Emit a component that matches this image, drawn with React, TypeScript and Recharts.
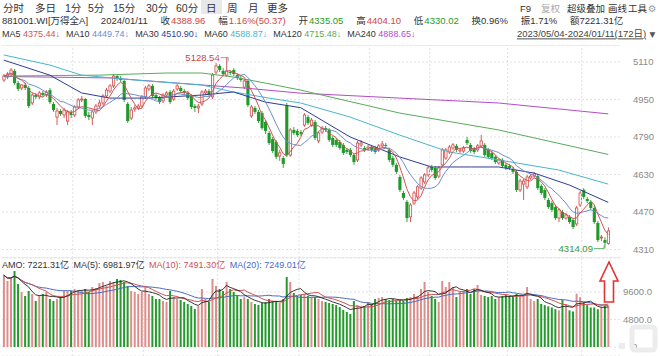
import React from 'react';
import { ComposedChart, Bar, Line, XAxis, YAxis, CartesianGrid, ReferenceLine, Cell } from 'recharts';

// ---------- data (2023/05/04 - 2024/01/11, 172 trading days) ----------
const opens = [
  5033, 5046, 5059, 5072, 5020, 4999, 5012, 4999, 4935, 4969,
  4961, 4978, 4969, 4990, 4931, 4875, 4901, 4884, 4858, 4897,
  4884, 4918, 4948, 4952, 4884, 4871, 4897, 4922, 4935, 4965,
  4986, 5008, 5050, 5042, 5029, 4931, 4871, 4909, 4914, 4922,
  4961, 4995, 5008, 4969, 4956, 4944, 4969, 4982, 4952, 4995,
  4999, 4986, 4978, 4965, 4922, 4914, 4931, 4978, 4986, 4961,
  5067, 5093, 5072, 5054, 5067, 5076, 5054, 5042, 5003, 5029,
  4880, 4914, 4897, 4892, 4854, 4807, 4781, 4769, 4709, 4700,
  4926, 4713, 4820, 4816, 4811, 4841, 4875, 4841, 4854, 4773,
  4811, 4828, 4820, 4786, 4777, 4769, 4756, 4735, 4735, 4713,
  4692, 4756, 4743, 4739, 4747, 4743, 4735, 4752, 4756, 4735,
  4700, 4671, 4619, 4551, 4513, 4449, 4508, 4534, 4572, 4598,
  4628, 4662, 4658, 4623, 4671, 4700, 4726, 4743, 4752, 4730,
  4730, 4777, 4756, 4739, 4735, 4752, 4756, 4735, 4722, 4705,
  4679, 4692, 4671, 4666, 4653, 4641, 4564, 4589, 4577, 4615,
  4623, 4623, 4581, 4564, 4521, 4508, 4491, 4444, 4470, 4444,
  4449, 4436, 4419, 4500, 4564, 4525, 4513, 4487, 4423, 4359,
  4350, 4335.05,
];
const closes = [
  5050, 5059, 5076, 5020, 4995, 5012, 4999, 4922, 4969, 4961,
  4978, 4969, 4982, 4939, 4905, 4901, 4888, 4905, 4897, 4884,
  4918, 4948, 4952, 4880, 4875, 4897, 4922, 4935, 4965, 4990,
  5008, 5050, 5037, 5033, 4948, 4858, 4905, 4914, 4922, 4961,
  4999, 5008, 4965, 4956, 4939, 4969, 4978, 4939, 4986, 5008,
  4986, 4978, 4956, 4918, 4914, 4922, 4982, 4986, 4973, 5054,
  5093, 5076, 5059, 5072, 5063, 5059, 5042, 5033, 5029, 4926,
  4918, 4897, 4858, 4828, 4816, 4764, 4730, 4705, 4722, 4675,
  4713, 4820, 4807, 4798, 4803, 4884, 4850, 4862, 4786, 4807,
  4828, 4820, 4777, 4756, 4756, 4743, 4722, 4726, 4713, 4683,
  4764, 4764, 4735, 4747, 4735, 4726, 4752, 4760, 4752, 4692,
  4671, 4641, 4564, 4530, 4444, 4500, 4551, 4577, 4615, 4628,
  4658, 4649, 4615, 4658, 4735, 4735, 4747, 4756, 4735, 4735,
  4743, 4764, 4730, 4726, 4752, 4773, 4713, 4705, 4700, 4683,
  4692, 4666, 4658, 4658, 4641, 4564, 4602, 4602, 4619, 4623,
  4632, 4572, 4551, 4530, 4491, 4479, 4444, 4479, 4444, 4457,
  4427, 4406, 4487, 4551, 4534, 4517, 4487, 4427, 4350, 4363,
  4338.59, 4388.96,
];
const highs = [
  5059, 5067, 5084, 5080, 5029, 5016, 5020, 5008, 4977, 4977,
  4986, 4986, 4990, 4999, 4939, 4914, 4909, 4914, 4905, 4905,
  4926, 4956, 4965, 4956, 4897, 4905, 4931, 4948, 4973, 4999,
  5016, 5059, 5054, 5050, 5033, 4939, 4918, 4926, 4931, 4969,
  5008, 5016, 5016, 4977, 4965, 4977, 4986, 4990, 4995, 5016,
  5008, 4995, 4986, 4973, 4931, 4931, 4990, 4995, 4995, 5063,
  5106, 5101, 5084, 5128.54, 5076, 5084, 5063, 5050, 5037, 5037,
  4926, 4922, 4905, 4901, 4862, 4816, 4790, 4777, 4735, 4709,
  4935, 4828, 4833, 4824, 4820, 4892, 4884, 4871, 4862, 4816,
  4837, 4837, 4828, 4794, 4786, 4777, 4764, 4743, 4743, 4722,
  4773, 4777, 4752, 4756, 4756, 4752, 4760, 4773, 4764, 4743,
  4709, 4679, 4628, 4560, 4521, 4508, 4560, 4585, 4623, 4636,
  4666, 4671, 4666, 4666, 4743, 4743, 4756, 4764, 4760, 4743,
  4752, 4790, 4764, 4747, 4760, 4799, 4764, 4743, 4730, 4713,
  4700, 4700, 4679, 4675, 4662, 4649, 4611, 4611, 4628, 4632,
  4641, 4632, 4589, 4572, 4530, 4517, 4500, 4487, 4479, 4466,
  4457, 4444, 4496, 4560, 4572, 4534, 4521, 4496, 4432, 4372,
  4362, 4404.10,
];
const lows = [
  5025, 5037, 5050, 5012, 4986, 4990, 4990, 4914, 4926, 4952,
  4952, 4961, 4961, 4931, 4897, 4841, 4880, 4871, 4841, 4871,
  4875, 4909, 4939, 4871, 4862, 4841, 4888, 4914, 4926, 4956,
  4978, 4999, 5029, 5025, 4939, 4850, 4862, 4897, 4905, 4914,
  4952, 4986, 4956, 4948, 4931, 4935, 4961, 4931, 4944, 4986,
  4978, 4969, 4948, 4909, 4897, 4892, 4922, 4969, 4965, 4952,
  5059, 5067, 5050, 5046, 5054, 5050, 5033, 5025, 4995, 4918,
  4871, 4888, 4850, 4820, 4803, 4756, 4722, 4696, 4688, 4658,
  4705, 4705, 4798, 4790, 4794, 4833, 4841, 4833, 4777, 4764,
  4803, 4811, 4769, 4747, 4747, 4735, 4713, 4717, 4705, 4671,
  4683, 4747, 4726, 4730, 4726, 4717, 4726, 4743, 4743, 4683,
  4662, 4632, 4555, 4521, 4427, 4427, 4500, 4525, 4564, 4589,
  4619, 4641, 4607, 4615, 4662, 4692, 4717, 4735, 4726, 4722,
  4722, 4756, 4722, 4717, 4726, 4743, 4705, 4696, 4692, 4675,
  4671, 4658, 4649, 4649, 4632, 4555, 4555, 4521, 4568, 4607,
  4615, 4564, 4543, 4521, 4483, 4470, 4436, 4427, 4436, 4436,
  4419, 4397, 4410, 4491, 4525, 4508, 4479, 4419, 4342, 4346,
  4314.09, 4330.02,
];
// turnover (亿)
const volumes = [
  12560, 11520, 12040, 13260, 10990, 9600, 8900, 9770, 9250, 8030,
  8900, 9250, 9600, 8380, 8030, 8380, 8720, 9770, 9770, 9770,
  10120, 9770, 9950, 10120, 9600, 10470, 10300, 11170, 11340, 10650,
  11520, 11340, 11870, 11690, 11340, 10650, 9770, 9600, 9250, 9600,
  10470, 9250, 8900, 8380, 8380, 8030, 7850, 9770, 8720, 8380,
  8200, 7850, 7500, 7150, 6630, 7150, 10120, 8380, 7850, 11870,
  10650, 10120, 9770, 11340, 10120, 9600, 8900, 8380, 8720, 8380,
  7850, 7500, 7330, 7680, 7850, 8380, 8030, 7850, 7680, 8380,
  12220, 11340, 9420, 8900, 9070, 9250, 8900, 8720, 8720, 8380,
  8030, 7850, 7680, 7500, 7330, 6980, 6460, 6110, 5760, 8030,
  7330, 6980, 7150, 7850, 7500, 8380, 8550, 8720, 8380, 8200,
  8380, 8030, 8200, 8030, 8550, 8720, 9250, 8900, 10120, 11340,
  9600, 8900, 8380, 7850, 11520, 10470, 11340, 10470, 8720, 9600,
  9770, 10120, 9250, 10120, 10820, 9070, 8900, 8720, 8900, 8380,
  8720, 8900, 9070, 8900, 8900, 9250, 8900, 9070, 10470, 8380,
  8030, 8380, 7500, 7300, 7100, 6900, 6600, 6400, 8200, 7470,
  6400, 6200, 9300, 8700, 7800, 7300, 6900, 6900, 6600, 7000,
  7200, 7221.31,
];

// long moving averages at a few days: [day index, value]
const ma30Pts: [number, number][] = [
  [0, 5118], [13, 5054], [22, 4978], [30, 4956], [41, 4956], [56, 4969], [65, 4982],
  [74, 4939], [84, 4915], [98, 4790], [112, 4705], [121, 4662], [132, 4662], [140, 4662],
  [150, 4636], [160, 4585], [171, 4510.9],
];
const ma60Pts: [number, number][] = [
  [0, 5140], [13, 5097], [22, 5054], [37, 5033], [56, 5012], [65, 4982], [75, 4956],
  [84, 4935], [98, 4875], [112, 4798], [126, 4726], [140, 4692], [157, 4649], [171, 4588.87],
];
const ma120Pts: [number, number][] = [
  [0, 5050], [27, 5054], [46, 5063], [56, 5063], [65, 5046], [74, 5020], [84, 4990],
  [112, 4892], [140, 4820], [171, 4715.48],
];
const ma240Pts: [number, number][] = [
  [0, 5048], [30, 5042], [56, 5012], [68, 4999], [84, 4977], [112, 4956], [140, 4935],
  [171, 4888.65],
];

const monthStarts = [20, 40, 61, 84, 104, 121, 143, 164];
const priceTicks = [4310, 4470, 4630, 4790, 4950, 5110];
const volTicks = [0, 4800, 9600];
const priceDomain: [number, number] = [4273.6, 5182.5];
const volDomain: [number, number] = [-1570, 15531];

// ---------- styles ----------
const CJK = "'Noto Sans CJK SC', 'Noto Sans', sans-serif";
const LAT = "'Liberation Sans', 'Noto Sans CJK SC', sans-serif";
const RED = '#d04848';
const GREEN = '#1f9a2a';
const VOL_RED = '#dc8e8b';
const VOL_GREEN = '#24992c';
const C_MA5 = '#d05454';
const C_MA10 = '#6d8fd0';
const C_MA30 = '#2e3c96';
const C_MA60 = '#48b6cc';
const C_MA120 = '#5aab5a';
const C_MA240 = '#b44cc8';
const GRID = '#e2e2e2';

const sma = (arr: number[], n: number) =>
  arr.map((_, i) => {
    const w = arr.slice(Math.max(0, i - n + 1), i + 1);
    return w.reduce((a, b) => a + b, 0) / w.length;
  });
const fromPts = (pts: [number, number][], i: number) => {
  const f = pts.find((p) => p[0] === i);
  return f ? f[1] : null;
};

const ma5 = sma(closes, 5);
const ma10 = sma(closes, 10);
const vma5 = sma(volumes, 5);
const vma10 = sma(volumes, 10);
const vma20 = sma(volumes, 20);
const maxIdx = highs.indexOf(Math.max(...highs));
const minIdx = lows.indexOf(Math.min(...lows));

const data = opens.map((o, i) => ({
  i,
  open: o,
  close: closes[i],
  high: highs[i],
  low: lows[i],
  vol: volumes[i],
  up: closes[i] >= o,
  ma5: ma5[i],
  ma10: ma10[i],
  ma30: fromPts(ma30Pts, i),
  ma60: fromPts(ma60Pts, i),
  ma120: fromPts(ma120Pts, i),
  ma240: fromPts(ma240Pts, i),
  vma5: vma5[i],
  vma10: vma10[i],
  vma20: vma20[i],
}));

const Candle = (props: any) => {
  const { x, y, width, height, payload } = props;
  if (x == null || y == null || !payload) return null;
  const { open, close, high, low } = payload;
  const top = Math.min(y, y + height);
  const h = Math.abs(height);
  const ppu = high > low ? h / (high - low) : 0;
  const py = (p: number) => top + (high - p) * ppu;
  const up = close >= open;
  const cx = x + width / 2;
  const bw = Math.max(width * 0.78, 1.2);
  const bTop = py(Math.max(open, close));
  const bBot = py(Math.min(open, close));
  const bh = Math.max(bBot - bTop, 0.8);
  const yH = py(high);
  const yL = py(low);
  const els: React.ReactNode[] = [];
  if (up) {
    els.push(<line key="w1" x1={cx} x2={cx} y1={yH} y2={bTop} stroke={RED} strokeWidth={0.9} />);
    els.push(<line key="w2" x1={cx} x2={cx} y1={bTop + bh} y2={yL} stroke={RED} strokeWidth={0.9} />);
    els.push(
      <rect key="b" x={cx - bw / 2 + 0.4} y={bTop} width={bw - 0.8} height={bh} fill="#fff" stroke={RED} strokeWidth={0.8} />
    );
  } else {
    els.push(<line key="w" x1={cx} x2={cx} y1={yH} y2={yL} stroke={GREEN} strokeWidth={0.9} />);
    els.push(<rect key="b" x={cx - bw / 2} y={bTop} width={bw} height={bh} fill={GREEN} />);
  }
  if (payload.i === maxIdx) {
    els.push(<polyline key="ml" points={`${cx - 6},${yH} ${cx + 1.5},${yH} ${cx + 1.5},${yH + 4}`} fill="none" stroke="#7a8aa0" strokeWidth={0.8} />);
    els.push(
      <text key="mt" x={cx - 7} y={yH + 3.5} textAnchor="end" fontSize={9.5} fontFamily={LAT} fill="#c04848">
        {high.toFixed(2)}
      </text>
    );
  }
  if (payload.i === minIdx) {
    els.push(<polyline key="nl" points={`${cx - 11},${yL} ${cx - 1},${yL} ${cx - 1},${yL - 3}`} fill="none" stroke="#5aa85a" strokeWidth={0.8} />);
    els.push(
      <text key="nt" x={cx - 12} y={yL + 3.5} textAnchor="end" fontSize={9.5} fontFamily={LAT} fill="#3a9a3a">
        {low.toFixed(2)}
      </text>
    );
  }
  return <g>{els}</g>;
};

const PriceTick = (props: any) => {
  const { x, y, payload } = props;
  return (
    <text x={x} y={y + 3.4} fontSize={9.5} fontFamily={LAT} fill="#8a8a8a" textAnchor="start">
      {payload.value}
    </text>
  );
};
const VolTick = (props: any) => {
  const { x, y, payload } = props;
  const v = payload.value;
  return (
    <text x={v === 0 ? x + 9 : x} y={y + 3.4} fontSize={9.5} fontFamily={LAT} fill="#8a8a8a" textAnchor="start">
      {v === 0 ? '0' : v.toFixed(1)}
    </text>
  );
};

const tabs: [string, number][] = [
  ['分时', 3], ['多日', 35], ['1分', 65], ['5分', 88], ['15分', 113], ['30分', 146],
  ['60分', 176], ['日', 206], ['周', 227], ['月', 248], ['更多', 267],
];
const tools: [string, number, string][] = [
  ['F9', 520, '#333'], ['复权', 541, '#aaa'], ['超级叠加', 567, '#333'], ['画线', 608, '#333'], ['工具', 628, '#333'],
];
// [text, gap before, colour]
const quote: [string, number, string][] = [
  ['881001.WI[万得全A]', 0, '#333'], ['2024/01/11', 12.8, '#333'], ['收', 12.8, '#333'], ['4388.96', 1, RED],
  ['幅', 12.8, '#333'], ['1.16%(50.37)', 1, RED], ['开', 12.8, '#333'], ['4335.05', 1, GREEN],
  ['高', 12.8, '#333'], ['4404.10', 1, RED], ['低', 12.8, '#333'], ['4330.02', 1, GREEN],
  ['换0.96%', 12.8, '#333'], ['振1.71%', 12.8, '#333'], ['额7221.31亿', 12.8, '#333'],
];
const maLegend: [string, number, string][] = [
  ['MA5', 0, '#333'], ['4375.44↓', 2.5, C_MA5], ['MA10', 6, '#333'], ['4449.74↓', 2.5, C_MA10],
  ['MA30', 6, '#333'], ['4510.90↓', 2.5, C_MA30], ['MA60', 6, '#333'], ['4588.87↓', 2.5, C_MA60],
  ['MA120', 6, '#333'], ['4715.48↓', 2.5, C_MA120], ['MA240', 6, '#333'], ['4888.65↓', 2.5, C_MA240],
];
const volLegend: [string, number, string][] = [
  ['AMO: 7221.31亿', 0, '#333'], ['MA(5): 6981.97亿', 4.5, '#333'],
  ['MA(10): 7491.30亿', 4.5, '#d05050'], ['MA(20): 7249.01亿', 4.5, '#4a6ac8'],
];

const Flow = ({ items, x, y, size }: { items: [string, number, string][]; x: number; y: number; size: number }) => (
  <text x={x} y={y} fontSize={size} fontFamily={LAT}>
    {items.map(([t, dx, c], k) => (
      <tspan key={k} dx={dx} fill={c}>{t}</tspan>
    ))}
  </text>
);

export default function App() {
  return (
    <div style={{ position: 'absolute', left: 0, top: 0, width: 660, height: 356, background: '#fff', overflow: 'hidden' }}>
      <svg width={660} height={45} style={{ position: 'absolute', left: 0, top: 0 }} fontFamily={CJK}>
        <rect x={201} y={0} width={21} height={14} fill="#e8e8e8" />
        {tabs.map(([t, x]) => (
          <text key={t} x={x} y={11.8} fontSize={10.5} fill="#333" fontFamily={LAT}>{t}</text>
        ))}
        {tools.map(([t, x, c]) => (
          <text key={t} x={x} y={11.8} fontSize={9.5} fill={c} fontFamily={LAT}>{t}</text>
        ))}
        <text x={648} y={11.8} fontSize={9.5} fill="#999" fontFamily="'DejaVu Sans'">⚙</text>
        <Flow items={quote} x={2} y={23.8} size={9.5} />
        <Flow items={maLegend} x={2} y={37.4} size={9} />
        <text x={517} y={37.4} fontSize={9.5} fill="#444" fontFamily={LAT} style={{ textDecoration: 'underline' }}>
          2023/05/04-2024/01/11(172日)
        </text>
        <text x={649.5} y={37} fontSize={7.5} fill="#555" fontFamily="'DejaVu Sans'">▼</text>
      </svg>

      <div style={{ position: 'absolute', left: 0, top: 45 }}>
        <ComposedChart width={660} height={213} data={data} margin={{ top: 0, right: 0, bottom: 0, left: 2 }} barCategoryGap="0%" barGap={0}>
          <CartesianGrid vertical={false} stroke={GRID} strokeDasharray="2 2" />
          <XAxis dataKey="i" type="category" hide padding={{ left: 0, right: 10 }} />
          <YAxis
            orientation="right"
            domain={priceDomain}
            ticks={priceTicks}
            allowDataOverflow
            width={40}
            tickLine={false}
            axisLine={false}
            tickSize={0}
            tickMargin={13}
            interval={0}
            tick={<PriceTick />}
          />
          <ReferenceLine y={priceDomain[1]} stroke={GRID} />
          <ReferenceLine y={priceDomain[0]} stroke="#dcdcdc" />
          {monthStarts.map((m) => (
            <ReferenceLine key={m} x={m} position="start" stroke={GRID} strokeDasharray="2 2" />
          ))}
          <Bar dataKey={(d: any) => [d.low, d.high]} shape={(p: any) => <Candle {...p} />} isAnimationActive={false} />
          <Line dataKey="ma240" stroke={C_MA240} strokeWidth={1} dot={false} connectNulls isAnimationActive={false} />
          <Line dataKey="ma120" stroke={C_MA120} strokeWidth={1} dot={false} connectNulls isAnimationActive={false} />
          <Line dataKey="ma60" stroke={C_MA60} strokeWidth={1} dot={false} connectNulls isAnimationActive={false} />
          <Line dataKey="ma30" stroke={C_MA30} strokeWidth={1} dot={false} connectNulls isAnimationActive={false} />
          <Line dataKey="ma10" stroke={C_MA10} strokeWidth={1} dot={false} isAnimationActive={false} />
          <Line dataKey="ma5" stroke={C_MA5} strokeWidth={1} dot={false} isAnimationActive={false} />
        </ComposedChart>
      </div>

      <div style={{ position: 'absolute', left: 0, top: 258 }}>
        <ComposedChart width={660} height={98} data={data} margin={{ top: 0, right: 0, bottom: 0, left: 2 }} barCategoryGap="26%">
          <CartesianGrid vertical={false} stroke={GRID} strokeDasharray="2 2" />
          <XAxis dataKey="i" type="category" hide padding={{ left: 0, right: 10 }} />
          <YAxis
            orientation="right"
            domain={volDomain}
            ticks={volTicks}
            allowDataOverflow
            width={40}
            tickLine={false}
            axisLine={false}
            tickSize={0}
            tickMargin={3}
            interval={0}
            tick={<VolTick />}
          />
          {monthStarts.map((m) => (
            <ReferenceLine key={m} x={m} position="start" stroke={GRID} strokeDasharray="2 2" />
          ))}
          <Bar dataKey="vol" isAnimationActive={false}>
            {data.map((d) => (
              <Cell key={d.i} fill={d.up ? VOL_RED : VOL_GREEN} />
            ))}
          </Bar>
          <Line dataKey="vma20" stroke="#4a6ac8" strokeWidth={1} dot={false} isAnimationActive={false} />
          <Line dataKey="vma10" stroke="#d05050" strokeWidth={1} dot={false} isAnimationActive={false} />
          <Line dataKey="vma5" stroke="#222" strokeWidth={0.9} dot={false} isAnimationActive={false} />
        </ComposedChart>
      </div>

      <svg width={660} height={356} style={{ position: 'absolute', left: 0, top: 0, pointerEvents: 'none' }}>
        <Flow items={volLegend} x={2} y={268.4} size={9} />
        <rect x={632} y={327} width={23} height={23} rx={3} fill="none" stroke="#ececec" strokeWidth={5} />
        <rect x={619} y={343} width={6} height={6} fill="#ececec" />
        <path d="M609,262 L618,281 L613.5,281 L613.5,302 L604.5,302 L604.5,281 L600,281 Z" fill="#fff" stroke="#e33232" strokeWidth={1.6} strokeLinejoin="miter" />
      </svg>
    </div>
  );
}
